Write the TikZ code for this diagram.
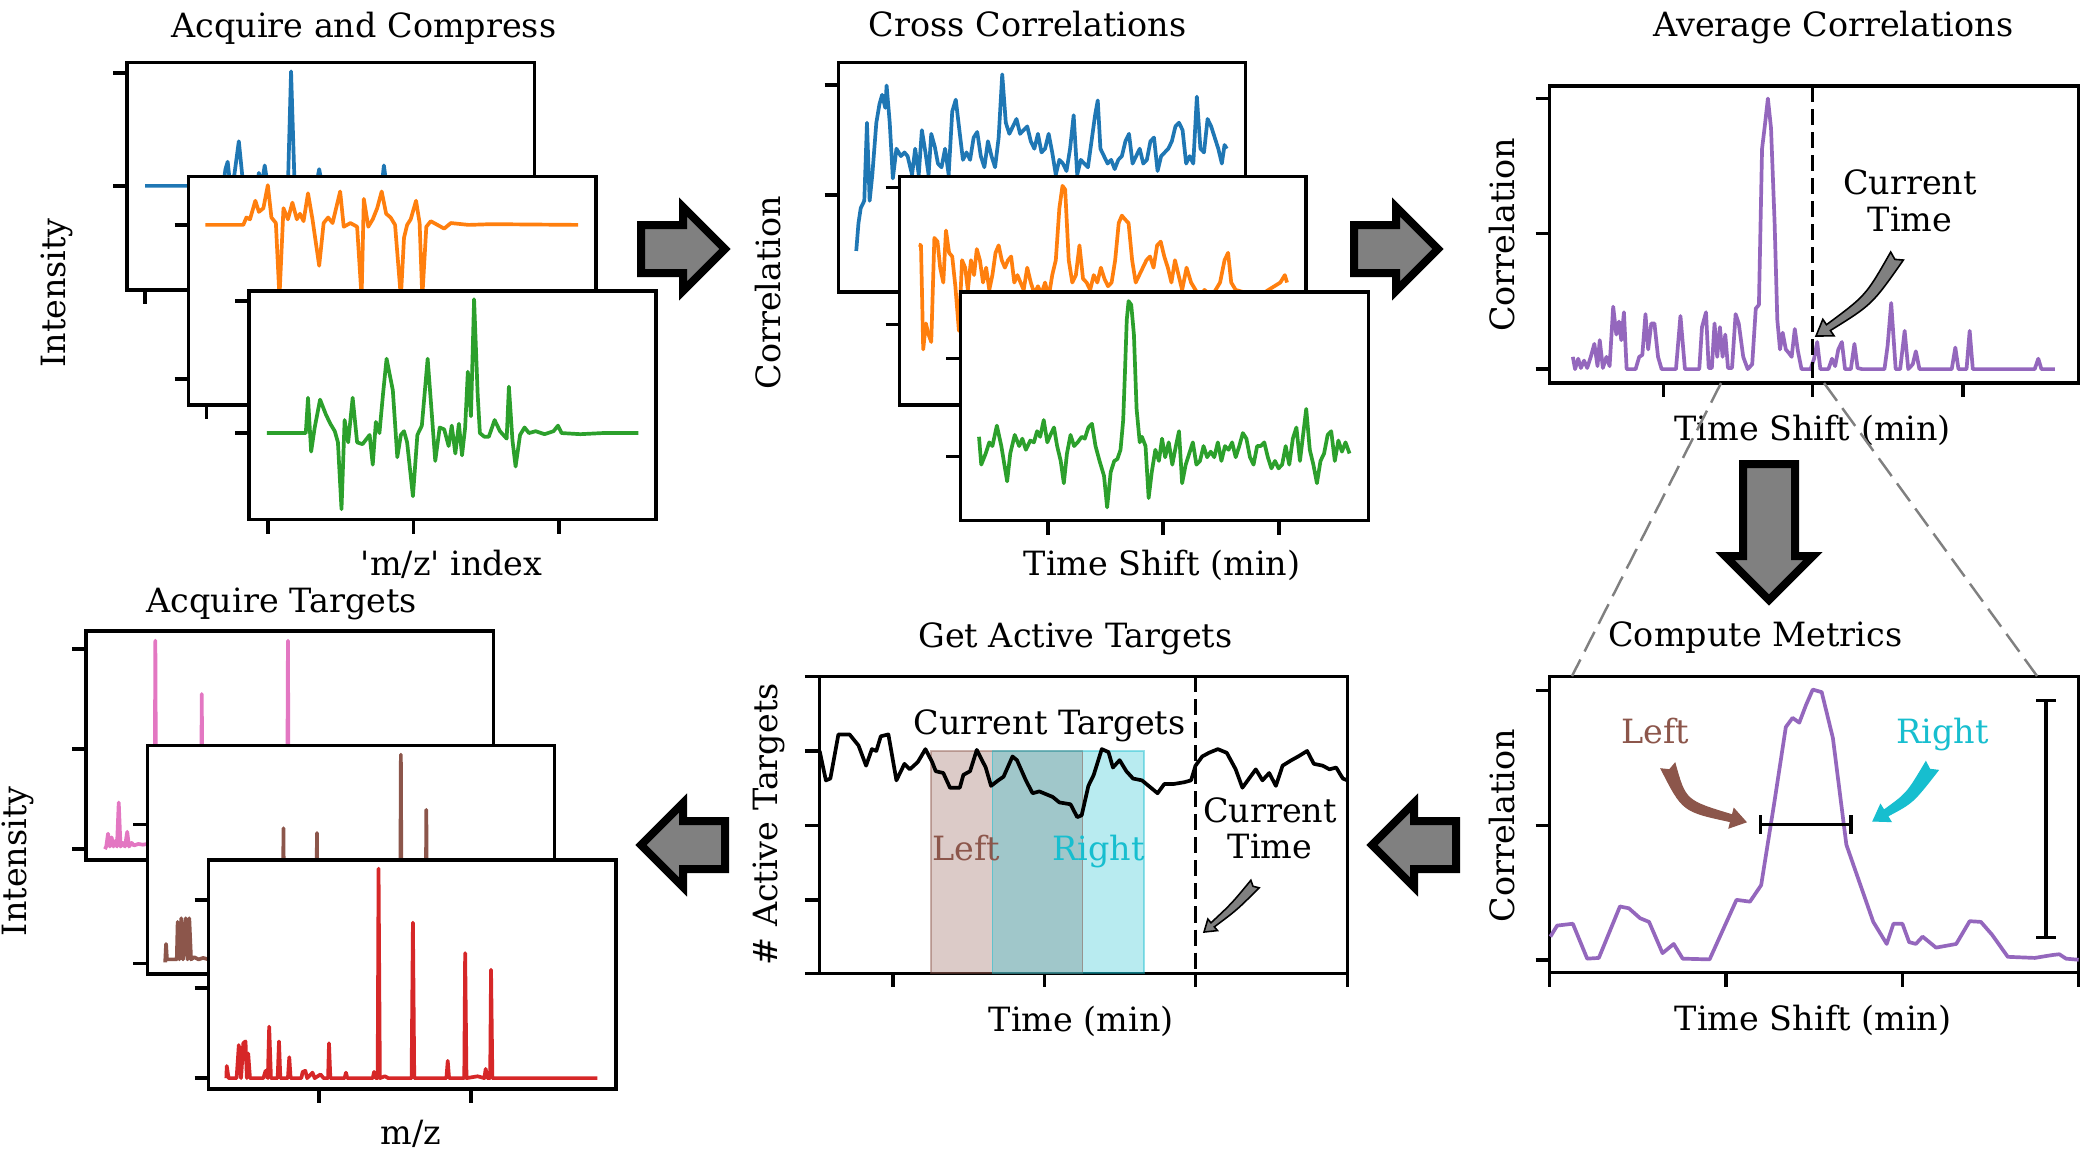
\documentclass[tikz,border=0pt]{standalone}
\usepackage{fontspec}
\setmainfont{DejaVu Serif}
\usepackage{tikz}
\usetikzlibrary{calc}

\definecolor{tabblue}{HTML}{1F77B4}
\definecolor{taborange}{HTML}{FF7F0E}
\definecolor{tabgreen}{HTML}{2CA02C}
\definecolor{tabred}{HTML}{D62728}
\definecolor{tabpurple}{HTML}{9467BD}
\definecolor{tabbrown}{HTML}{8C564B}
\definecolor{tabpink}{HTML}{E377C2}
\definecolor{tabcyan}{HTML}{17BECF}

\tikzset{
  frame/.style={draw=black, fill=white, line width=1pt},
  axtick/.style={line width=1pt},
  curve/.style={line width=1.05pt, line join=round},
  lbl/.style={font=\fontsize{9.5}{10.5}\selectfont, inner sep=0pt},
  blockarrow/.style={draw=black, fill=gray, line width=0.08cm, line join=miter},
  zoomline/.style={gray, line width=0.7pt, dash pattern=on 0.22cm off 0.09cm},
  nowline/.style={line width=0.9pt, dash pattern=on 0.16cm off 0.07cm},
  spanbox/.style={fill opacity=0.3, draw opacity=0.45, line width=0.5pt},
}

% curved tapered arrow: style, tail, control, tip, size
\newcommand{\fancyarrow}[5]{%
  \pgfmathsetlengthmacro{\fatw}{0.075cm*#5}%
  \pgfmathsetlengthmacro{\famw}{0.055cm*#5}%
  \pgfmathsetlengthmacro{\fanw}{0.035cm*#5}%
  \pgfmathsetlengthmacro{\fahw}{0.10cm*#5}%
  \pgfmathsetlengthmacro{\fahl}{0.15cm*#5}%
  \pgfmathsetlengthmacro{\fant}{0.04cm*#5}%
  \coordinate (fab) at ($(#4)!\fahl!(#3)$);
  \draw[#1] ($(#2)!\fatw!90:(#3)$) .. controls ($(#3)!\famw!90:(#4)$) .. ($(fab)!\fanw!90:(#4)$)
    -- ($(fab)!\fahw!90:(#4)$) -- (#4) -- ($(fab)!\fahw!-90:(#4)$) -- ($(fab)!\fanw!-90:(#4)$)
    .. controls ($(#3)!\famw!-90:(#4)$) .. ($(#2)!\fatw!-90:(#3)$) -- ($(#2)!\fant!(#3)$) -- cycle;
}

\begin{document}
\begin{tikzpicture}[x=0.01cm, y=-0.01cm]
\useasboundingbox (0,0) rectangle (2083,1153);

% ---- acquire and compress
\begin{scope}[shift={(0,0)}, xscale=0.4464, yscale=0.3717]
  \draw[frame] (285,168) rectangle (1197,780);
  \foreach \ty in {197,500} \draw[axtick] (254,\ty) -- (285,\ty);
  \draw[axtick] (325,780) -- (325,818);
  \draw[curve, tabblue] plot coordinates {(325,500) (500,500) (505,455) (510,435) (516,500) (525,470) (535,380) (545,500) (575,500) (580,465) (586,500) (593,445) (600,500) (645,500) (652,192) (660,500) (708,500) (715,455) (722,500) (855,500) (860,445) (866,500) (1190,500)};
  \draw[frame] (422,475) rectangle (1335,1090);
  \foreach \ty in {605,1020} \draw[axtick] (391,\ty) -- (422,\ty);
  \draw[axtick] (463,1090) -- (463,1128);
  \draw[curve, taborange] plot coordinates {(460,605) (545,605) (552,585) (560,590) (572,540) (580,570) (590,560) (600,498) (608,585) (618,600) (626,800) (635,560) (645,590) (655,545) (665,590) (672,575) (680,595) (690,520) (700,590) (715,715) (725,600) (735,585) (745,600) (762,515) (770,610) (785,600) (800,610) (810,800) (815,535) (825,610) (835,590) (845,560) (855,515) (865,575) (875,585) (885,605) (898,800) (905,640) (912,605) (920,590) (932,540) (940,600) (946,800) (955,610) (965,595) (980,605) (995,615) (1010,600) (1050,605) (1100,603) (1295,605)};
  \draw[frame] (558,783) rectangle (1470,1398);
  \foreach \ty in {810,1165} \draw[axtick] (527,\ty) -- (558,\ty);
  \foreach \tx in {600,926,1252} \draw[axtick] (\tx,1398) -- (\tx,1436);
  \draw[curve, tabgreen] plot coordinates {(598,1165) (685,1165) (690,1070) (697,1215) (705,1150) (717,1075) (730,1115) (740,1140) (750,1160) (757,1190) (765,1370) (772,1130) (780,1190) (790,1070) (800,1190) (812,1195) (828,1170) (835,1250) (842,1135) (850,1165) (858,1060) (866,965) (880,1050) (890,1230) (898,1170) (905,1160) (912,1190) (925,1335) (935,1170) (945,1145) (958,965) (968,1125) (975,1240) (985,1150) (995,1155) (1005,1200) (1012,1145) (1020,1220) (1028,1140) (1035,1225) (1042,1150) (1048,1000) (1055,1120) (1062,805) (1070,1060) (1075,1165) (1085,1175) (1095,1175) (1108,1130) (1120,1160) (1135,1180) (1140,1040) (1148,1185) (1155,1255) (1165,1170) (1175,1150) (1185,1165) (1200,1160) (1220,1168) (1240,1160) (1250,1145) (1258,1165) (1300,1168) (1350,1165) (1430,1165)};
  \node[lbl, anchor=base] (acqtitle) at (815,100) {Acquire and Compress};
  \node[lbl, rotate=90] (acqylab) at (128,788) {Intensity};
  \node[lbl, anchor=base] (acqxlab) at (1012,1548) {\textquotesingle m/z\textquotesingle{} index};
\end{scope}

% ---- cross correlations
\begin{scope}[shift={(700,0)}, xscale=0.4464, yscale=0.3717]
  \draw[frame] (310,168) rectangle (1222,785);
  \foreach \ty in {228,525} \draw[axtick] (279,\ty) -- (310,\ty);
  \draw[curve, tabblue] plot coordinates {(350,675) (355,600) (360,560) (368,540) (374,330) (380,540) (386,470) (395,330) (402,280) (408,255) (415,290) (418,230) (425,330) (432,480) (440,400) (450,420) (458,410) (465,420) (475,470) (482,400) (490,470) (497,350) (505,410) (512,470) (518,360) (526,395) (533,440) (541,450) (549,400) (557,470) (565,300) (573,268) (581,350) (589,430) (597,410) (605,430) (613,370) (621,355) (629,420) (637,450) (645,380) (653,420) (661,450) (669,370) (677,200) (685,330) (693,360) (701,340) (709,320) (717,360) (725,350) (733,340) (741,380) (749,400) (757,360) (765,410) (773,400) (781,360) (789,410) (797,470) (805,430) (813,440) (821,460) (829,400) (837,310) (845,470) (853,430) (861,440) (869,450) (877,380) (885,310) (891,270) (897,400) (905,420) (913,440) (921,430) (929,455) (937,430) (945,420) (953,380) (961,360) (969,440) (977,420) (985,400) (993,440) (1001,430) (1009,380) (1017,370) (1025,460) (1033,420) (1041,410) (1049,400) (1057,380) (1065,340) (1073,330) (1081,350) (1089,440) (1097,420) (1105,440) (1113,260) (1121,400) (1129,410) (1137,320) (1145,340) (1153,370) (1161,400) (1169,440) (1175,390) (1180,400)};
  \draw[frame] (447,475) rectangle (1358,1090);
  \foreach \ty in {505,873} \draw[axtick] (416,\ty) -- (447,\ty);
  \draw[curve, taborange] plot coordinates {(490,658) (495,660) (500,940) (506,870) (512,900) (518,920) (525,640) (532,650) (538,720) (545,760) (551,620) (558,680) (565,690) (572,770) (580,890) (587,700) (594,720) (600,780) (607,700) (614,740) (620,670) (627,700) (634,760) (641,720) (648,780) (655,740) (662,680) (669,660) (676,700) (683,720) (690,700) (697,690) (704,760) (711,740) (718,760) (725,780) (733,720) (741,760) (749,790) (757,770) (765,790) (773,760) (781,800) (789,740) (797,700) (805,560) (812,500) (818,510) (826,700) (834,760) (842,740) (850,660) (858,750) (866,760) (874,780) (882,740) (890,760) (898,720) (906,750) (914,770) (922,760) (930,700) (938,600) (945,580) (952,590) (960,600) (968,700) (976,760) (984,740) (992,720) (1000,700) (1008,690) (1016,720) (1024,660) (1032,650) (1040,690) (1048,720) (1056,760) (1064,700) (1072,740) (1080,780) (1090,720) (1100,760) (1110,780) (1120,800) (1130,780) (1140,790) (1150,790) (1165,760) (1175,700) (1183,680) (1190,760) (1200,780) (1230,790) (1260,790) (1300,760) (1310,740) (1315,760)};
  \draw[frame] (583,785) rectangle (1497,1400);
  \foreach \ty in {965,1228} \draw[axtick] (552,\ty) -- (583,\ty);
  \foreach \tx in {780,1037,1297} \draw[axtick] (\tx,1400) -- (\tx,1438);
  \draw[curve, tabgreen] plot coordinates {(625,1175) (630,1250) (640,1220) (648,1190) (655,1200) (665,1145) (675,1200) (688,1295) (695,1220) (705,1170) (715,1200) (722,1180) (730,1210) (740,1185) (748,1190) (755,1160) (762,1175) (770,1130) (778,1190) (785,1170) (793,1150) (800,1200) (808,1240) (815,1300) (822,1220) (830,1170) (838,1200) (846,1190) (855,1175) (862,1180) (870,1150) (878,1140) (886,1200) (895,1240) (905,1280) (912,1365) (920,1270) (928,1240) (935,1235) (942,1210) (948,1130) (952,1000) (956,860) (960,810) (966,820) (972,900) (978,1100) (985,1190) (990,1175) (998,1200) (1005,1340) (1012,1270) (1020,1210) (1028,1240) (1035,1180) (1042,1230) (1050,1190) (1058,1250) (1066,1200) (1073,1160) (1080,1300) (1088,1250) (1096,1220) (1104,1190) (1112,1250) (1120,1240) (1128,1200) (1136,1230) (1144,1215) (1152,1230) (1160,1190) (1168,1240) (1176,1200) (1184,1210) (1192,1190) (1200,1230) (1208,1200) (1216,1165) (1224,1180) (1232,1230) (1240,1250) (1248,1200) (1256,1200) (1264,1190) (1272,1230) (1280,1260) (1288,1240) (1296,1260) (1304,1250) (1312,1200) (1320,1250) (1328,1180) (1336,1150) (1344,1240) (1352,1160) (1358,1100) (1366,1210) (1374,1250) (1382,1300) (1390,1240) (1398,1220) (1406,1170) (1414,1160) (1422,1240) (1430,1185) (1438,1215) (1446,1190) (1455,1220)};
  \node[lbl, anchor=base] (xcortitle) at (734,97) {Cross Correlations};
  \node[lbl, rotate=90] (xcorylab) at (152,787) {Correlation};
  \node[lbl, anchor=base] (xcorxlab) at (1035,1548) {Time Shift (min)};
\end{scope}

% ---- average correlations
\begin{scope}[shift={(1380,0)}, xscale=0.4484, yscale=0.3717]
  \draw[frame] (378,232) rectangle (1558,1030);
  \foreach \ty in {265,628,993} \draw[axtick] (347,\ty) -- (378,\ty);
  \foreach \tx in {632,965,1300} \draw[axtick] (\tx,1030) -- (\tx,1068);
  \draw[curve, tabpurple] plot coordinates {(430,960) (435,993) (442,965) (448,990) (455,970) (462,990) (470,960) (478,925) (485,985) (490,915) (497,990) (505,960) (512,985) (520,825) (527,900) (533,865) (538,915) (544,840) (550,993) (570,993) (578,960) (585,955) (592,845) (598,940) (605,870) (612,870) (620,960) (628,993) (660,993) (670,850) (680,993) (712,993) (718,880) (727,840) (733,990) (740,990) (746,870) (752,960) (758,880) (764,960) (770,900) (776,990) (785,990) (793,845) (800,870) (810,960) (820,993) (830,980) (838,830) (845,820) (852,400) (858,340) (865,265) (872,345) (880,600) (886,860) (892,940) (898,895) (905,940) (912,950) (918,960) (925,885) (932,945) (940,993) (960,993) (968,965) (975,920) (982,993) (1000,993) (1008,965) (1015,985) (1022,940) (1030,920) (1037,993) (1050,993) (1058,925) (1065,990) (1075,993) (1125,993) (1132,930) (1140,815) (1150,993) (1160,993) (1170,890) (1178,993) (1188,980) (1195,945) (1203,993) (1275,993) (1283,935) (1290,993) (1308,993) (1315,890) (1322,993) (1460,993) (1468,965) (1475,993) (1505,993)};
  \draw[nowline] (965,232) -- (965,1030);
  \node[lbl, anchor=base] (avgtitle) at (1011,97) {Average Correlations};
  \node[lbl, rotate=90] (avgylab) at (272,632) {Correlation};
  \node[lbl, anchor=base] (avgxlab) at (965,1185) {Time Shift (min)};
  \node[lbl, align=center, anchor=south] (avgnow) at (1182,625) {Current\\Time};
\end{scope}

% ---- compute metrics
\begin{scope}[shift={(1380,580)}, xscale=0.4484, yscale=0.3676]
  \draw[frame] (378,262) rectangle (1558,1068);
  \foreach \ty in {300,668,1033} \draw[axtick] (347,\ty) -- (378,\ty);
  \foreach \tx in {378,772,1165,1558} \draw[axtick] (\tx,1068) -- (\tx,1106);
  \draw[curve, tabpurple] plot coordinates {(380,970) (395,940) (430,935) (462,1030) (488,1028) (535,888) (555,893) (580,920) (600,930) (630,1015) (655,990) (675,1030) (735,1032) (795,870) (825,875) (850,830) (880,600) (905,400) (920,375) (935,388) (950,340) (965,298) (985,305) (1010,430) (1040,720) (1100,930) (1130,990) (1145,935) (1165,935) (1180,985) (1195,990) (1210,970) (1240,1000) (1285,990) (1315,928) (1340,930) (1365,965) (1400,1025) (1460,1028) (1500,1020) (1515,1018) (1530,1030) (1558,1033)};
  \draw[axtick] (848,665) -- (1050,665) (848,640) -- (848,690) (1050,640) -- (1050,690);
  \draw[axtick] (1485,328) -- (1485,973) (1463,328) -- (1507,328) (1463,973) -- (1507,973);
  \node[lbl, anchor=base] (mettitle) at (837,182) {Compute Metrics};
  \node[lbl, rotate=90] (metylab) at (272,668) {Correlation};
  \node[lbl, anchor=base] (metxlab) at (966,1225) {Time Shift (min)};
  \node[lbl, anchor=base, text=tabbrown] (metleft) at (614,445) {Left};
  \node[lbl, anchor=base, text=tabcyan] (metright) at (1255,445) {Right};
\end{scope}

% ---- get active targets
\begin{scope}[shift={(700,580)}, xscale=0.4464, yscale=0.3676]
  \draw[frame] (268,262) rectangle (1450,1070);
  \foreach \ty in {262,465,668,870,1070} \draw[axtick] (235,\ty) -- (268,\ty);
  \foreach \tx in {432,772,1110,1450} \draw[axtick] (\tx,1070) -- (\tx,1108);
  \fill[spanbox, fill=tabbrown] (518,465) rectangle (857,1070);
  \fill[spanbox, fill=tabcyan] (655,465) rectangle (995,1070);
  \draw[spanbox, draw=tabbrown] (518,465) rectangle (857,1070);
  \draw[spanbox, draw=tabcyan] (655,465) rectangle (995,1070);
  \draw[curve, black] plot coordinates {(268,465) (282,545) (292,540) (310,420) (335,420) (355,450) (372,505) (385,460) (395,465) (405,425) (422,420) (440,545) (458,500) (470,515) (488,495) (505,460) (520,495) (528,520) (545,525) (560,565) (582,565) (590,530) (605,520) (620,462) (640,510) (652,560) (668,545) (680,535) (700,480) (710,490) (730,545) (745,580) (760,575) (790,590) (805,605) (830,610) (845,645) (855,640) (870,560) (882,530) (900,460) (915,468) (925,510) (940,490) (955,520) (970,540) (990,545) (1010,565) (1025,580) (1040,555) (1060,555) (1085,550) (1100,545) (1110,505) (1125,480) (1140,470) (1160,460) (1180,470) (1200,515) (1215,565) (1230,540) (1245,515) (1260,545) (1275,525) (1290,560) (1305,505) (1325,490) (1340,480) (1360,465) (1375,500) (1395,505) (1410,515) (1425,510) (1440,540) (1450,545)};
  \draw[nowline] (1110,262) -- (1110,1070);
  \node[lbl, anchor=base] (acttitle) at (841,183) {Get Active Targets};
  \node[lbl, rotate=90] (actylab) at (155,665) {\# Active Targets};
  \node[lbl, anchor=base] (actxlab) at (854,1228) {Time (min)};
  \node[lbl, anchor=base] (actcur) at (783,420) {Current Targets};
  \node[lbl, anchor=base, text=tabbrown] (actleft) at (596,762) {Left};
  \node[lbl, anchor=base, text=tabcyan] (actright) at (893,762) {Right};
  \node[lbl, align=center, anchor=south] (actnow) at (1277,762) {Current\\Time};
\end{scope}

% ---- acquire targets
\begin{scope}[shift={(0,580)}, xscale=0.4464, yscale=0.3676]
  \draw[frame] (193,138) rectangle (1105,762);
  \foreach \ty in {187,460,732} \draw[axtick] (162,\ty) -- (193,\ty);
  \draw[curve, tabpink] plot coordinates {(235,732) (238,725) (242,690) (246,725) (250,700) (254,725) (258,710) (262,725) (266,605) (270,725) (275,715) (280,725) (285,685) (289,725) (295,715) (300,722) (310,718) (320,720) (330,718) (340,725) (346,732) (348,165) (350,732) (450,732) (452,310) (454,732) (643,732) (645,165) (647,732) (1060,732)};
  \draw[frame] (330,450) rectangle (1242,1072);
  \foreach \ty in {665,1043} \draw[axtick] (299,\ty) -- (330,\ty);
  \draw[curve, tabbrown] plot coordinates {(370,1040) (372,990) (374,1032) (396,1032) (398,930) (402,1032) (406,920) (410,1032) (416,920) (420,1032) (424,920) (428,1032) (435,1026) (445,1032) (455,1028) (467,1032) (633,1040) (635,675) (637,1040) (708,1040) (710,688) (712,1040) (896,1040) (898,475) (900,1040) (953,1040) (955,625) (957,1040) (1200,1040)};
  \draw[frame] (467,762) rectangle (1380,1385);
  \foreach \ty in {870,1110,1355} \draw[axtick] (436,\ty) -- (467,\ty);
  \foreach \tx in {715,1055} \draw[axtick] (\tx,1385) -- (\tx,1423);
  \draw[curve, tabred] plot coordinates {(507,1355) (508,1322) (512,1355) (530,1355) (535,1265) (540,1355) (545,1260) (550,1255) (553,1355) (556,1288) (560,1355) (590,1355) (595,1335) (600,1355) (603,1215) (607,1355) (622,1355) (625,1255) (628,1355) (645,1355) (648,1298) (651,1355) (675,1355) (678,1338) (684,1335) (688,1355) (700,1340) (705,1355) (718,1345) (725,1355) (735,1355) (737,1260) (740,1355) (772,1355) (775,1340) (778,1355) (835,1355) (838,1338) (842,1355) (846,1355) (848,785) (851,1355) (862,1350) (870,1355) (922,1355) (925,932) (928,1355) (1000,1355) (1003,1308) (1006,1355) (1040,1355) (1042,1015) (1045,1355) (1070,1350) (1085,1355) (1088,1330) (1092,1355) (1098,1355) (1100,1060) (1103,1355) (1338,1355)};
  \node[lbl, anchor=base] (tgttitle) at (631,88) {Acquire Targets};
  \node[lbl, rotate=90] (tgtylab) at (40,765) {Intensity};
  \node[lbl, anchor=base] (tgtxlab) at (921,1535) {m/z};
\end{scope}

% ---- zoom lines
\draw[zoomline] (1721,383) -- (1572,676);
\draw[zoomline] (1824,383) -- (2037,676);

% ---- block arrows between the steps
\draw[blockarrow] (641,225) -- (683,225) -- (683,207) -- (725,249) -- (683,291) -- (683,273) -- (641,273) -- cycle;
\draw[blockarrow] (1354,225) -- (1396,225) -- (1396,207) -- (1438,249) -- (1396,291) -- (1396,273) -- (1354,273) -- cycle;
\draw[blockarrow] (1743,464) -- (1795,464) -- (1795,556) -- (1813,556) -- (1769,600) -- (1725,556) -- (1743,556) -- cycle;
\draw[blockarrow] (1456,821) -- (1414,821) -- (1414,803) -- (1372,845) -- (1414,887) -- (1414,869) -- (1456,869) -- cycle;
\draw[blockarrow] (725,821) -- (683,821) -- (683,803) -- (641,845) -- (683,887) -- (683,869) -- (725,869) -- cycle;

% ---- annotation arrows
\coordinate (avgtail) at (1897,256);
\coordinate (avgbend) at (1869,300);
\coordinate (avgtip) at (1816,336);
\fancyarrow{fill=gray, draw=black, line width=0.45pt}{avgtail}{avgbend}{avgtip}{1}
\coordinate (acttail) at (1255,884);
\coordinate (actbend) at (1234,907);
\coordinate (acttip) at (1204,932);
\fancyarrow{fill=gray, draw=black, line width=0.45pt}{acttail}{actbend}{acttip}{0.75}
\coordinate (lefttail) at (1668,766);
\coordinate (leftbend) at (1684,806);
\coordinate (lefttip) at (1746,822);
\fancyarrow{fill=tabbrown, draw=tabbrown, line width=0.3pt}{lefttail}{leftbend}{lefttip}{1}
\coordinate (righttail) at (1932,766);
\coordinate (rightbend) at (1910,798);
\coordinate (righttip) at (1873,821);
\fancyarrow{fill=tabcyan, draw=tabcyan, line width=0.3pt}{righttail}{rightbend}{righttip}{1}
\end{tikzpicture}
\end{document}
